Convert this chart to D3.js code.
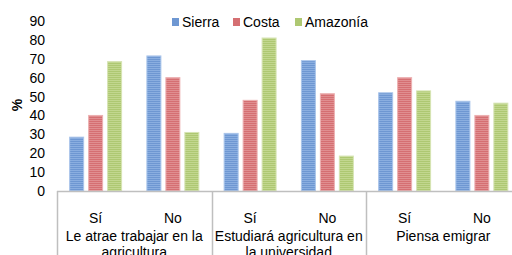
<!DOCTYPE html>
<html>
<head>
<meta charset="utf-8">
<script src="https://cdn.jsdelivr.net/npm/d3@7"></script>
<style>
  body { margin: 0; background: #fff; }
  text { font-family: "Liberation Sans", Arial, sans-serif; fill: #000; }
</style>
</head>
<body>
<div class="chart"></div>
<script>
var groups = ["Le atrae trabajar en la agricultura", "Estudiará agricultura en la universidad", "Piensa emigrar"];
var groupLines = [["Le atrae trabajar en la", "agricultura"], ["Estudiará agricultura en", "la universidad"], ["Piensa emigrar"]];
var answers = ["Sí", "No"];
var series = ["Sierra", "Costa", "Amazonía"];
var sierra = [28.5, 71.5, 30.5, 69, 52, 47.5];
var costa = [40, 60, 48, 51.5, 60, 40];
var amazonia = [68.5, 31, 81, 18.5, 53, 46.5];
var yTicks = [0, 10, 20, 30, 40, 50, 60, 70, 80, 90];

function init() {
  var w = 512, h = 255;
  var left = 57, right = 520.5, top = 21, bottom = 191;

  var rows = [];
  groups.forEach(function(g, gi) {
    answers.forEach(function(a, ai) {
      var i = gi * 2 + ai;
      rows.push({ key: i, group: g, answer: a, values: [sierra[i], costa[i], amazonia[i]] });
    });
  });

  var svg = d3.select(".chart").append("svg")
    .attr("width", w).attr("height", h);

  var colors = [
    ["#6e97d2", "#8aaee0", "#a9c4ea"],
    ["#d56f72", "#e08e90", "#ecb0b1"],
    ["#aec872", "#c2d78f", "#d6e4b3"]
  ];
  var defs = svg.append("defs");
  colors.forEach(function(c, i) {
    var p = defs.append("pattern").attr("id", "pat" + i)
      .attr("patternUnits", "userSpaceOnUse").attr("width", 4).attr("height", 2);
    p.append("rect").attr("width", 4).attr("height", 2).attr("fill", c[0]);
    p.append("rect").attr("width", 4).attr("height", 1).attr("fill", c[1]);
  });

  var xGroup = d3.scaleBand().domain(d3.range(rows.length)).range([left, right]);
  var xInner = d3.scaleBand().domain(d3.range(series.length))
    .range([0, xGroup.bandwidth()]).paddingInner(0.21).paddingOuter(0.64);
  var y = d3.scaleLinear().domain([0, 90]).range([bottom, top]);

  // y axis (labels only)
  var yAxis = d3.axisLeft(y).tickValues(yTicks).tickSize(0).tickPadding(12);
  var ga = svg.append("g").attr("transform", "translate(" + left + ",0)").call(yAxis);
  ga.select(".domain").remove();
  ga.selectAll("text").attr("font-size", "14px").attr("font-family", "Liberation Sans, Arial, sans-serif");

  svg.append("text").text("%")
    .attr("transform", "translate(22,105) rotate(-90)")
    .attr("text-anchor", "middle").attr("font-size", "14px").attr("font-weight", "bold");

  // bars
  var cat = svg.selectAll(".cat").data(rows).enter().append("g")
    .attr("transform", function(d) { return "translate(" + xGroup(d.key) + ",0)"; });
  cat.selectAll("rect").data(function(d) { return d.values; }).enter().append("rect")
    .attr("x", function(d, i) { return xInner(i) + 0.5; })
    .attr("y", function(d) { return y(d); })
    .attr("width", xInner.bandwidth() - 1)
    .attr("height", function(d) { return bottom - y(d); })
    .attr("fill", function(d, i) { return "url(#pat" + i + ")"; })
    .attr("stroke", function(d, i) { return colors[i][2]; })
    .attr("stroke-width", 1);

  // baseline and group dividers
  svg.append("line").attr("x1", left).attr("x2", right).attr("y1", bottom + 0.5).attr("y2", bottom + 0.5)
    .attr("stroke", "#bfbfbf").attr("stroke-width", 1.5);
  var gw = (right - left) / groups.length;
  d3.range(groups.length + 1).forEach(function(i) {
    var x = Math.round(left + gw * i) + 0.5;
    svg.append("line").attr("x1", x).attr("x2", x).attr("y1", bottom).attr("y2", h)
      .attr("stroke", "#bfbfbf").attr("stroke-width", 1.5);
  });

  // answer labels
  svg.selectAll(".ans").data(rows).enter().append("text")
    .attr("x", function(d) { return xGroup(d.key) + xGroup.bandwidth() / 2; })
    .attr("y", 223).attr("text-anchor", "middle").attr("font-size", "14px")
    .text(function(d) { return d.answer; });

  // group labels
  groupLines.forEach(function(lines, gi) {
    var t = svg.append("text").attr("x", left + gw * (gi + 0.5)).attr("y", 241)
      .attr("text-anchor", "middle").attr("font-size", "14px");
    lines.forEach(function(l, li) {
      t.append("tspan").attr("x", left + gw * (gi + 0.5)).attr("dy", li ? 16 : 0).text(l);
    });
  });

  // legend
  var legX = [172, 233, 295];
  var leg = svg.selectAll(".leg").data(series).enter().append("g")
    .attr("transform", function(d, i) { return "translate(" + legX[i] + ",18)"; });
  leg.append("rect").attr("width", 7).attr("height", 8)
    .attr("fill", function(d, i) { return colors[i][0]; });
  leg.append("text").attr("x", 10).attr("y", 9).attr("font-size", "14px")
    .text(function(d) { return d; });
}
window.onload = init;
</script>
</body>
</html>
